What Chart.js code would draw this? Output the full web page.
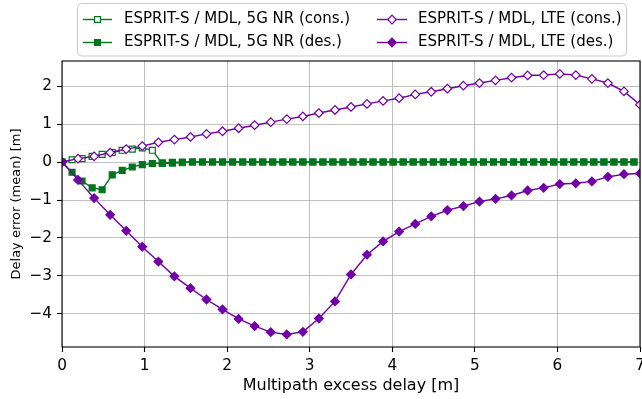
<!DOCTYPE html>
<html><head><meta charset="utf-8">
<script src="https://cdn.jsdelivr.net/npm/chart.js@4/dist/chart.umd.min.js"></script>
<style>html,body{margin:0;padding:0;background:#fff;} canvas{display:block;}</style>
</head><body>
<canvas id="c" width="642" height="399" style="width:642px;height:399px"></canvas>
<script>
// x positions (multipath excess delay, m)
const lteDelay = [0, 0.194, 0.389, 0.583, 0.778, 0.972, 1.167, 1.361, 1.556, 1.75, 1.944, 2.139, 2.333, 2.528, 2.722, 2.917, 3.111, 3.306, 3.5, 3.694, 3.889, 4.083, 4.278, 4.472, 4.667, 4.861, 5.056, 5.25, 5.444, 5.639, 5.833, 6.028, 6.222, 6.417, 6.611, 6.806, 7.0];
const nrDelay = [0, 0.122, 0.243, 0.365, 0.486, 0.608, 0.729, 0.851, 0.972, 1.094, 1.215, 1.337, 1.458, 1.580, 1.701, 1.823, 1.944, 2.066, 2.188, 2.309, 2.431, 2.552, 2.674, 2.795, 2.917, 3.038, 3.160, 3.281, 3.403, 3.524, 3.646, 3.767, 3.889, 4.010, 4.132, 4.253, 4.375, 4.497, 4.618, 4.740, 4.861, 4.983, 5.104, 5.226, 5.347, 5.469, 5.590, 5.712, 5.833, 5.955, 6.076, 6.198, 6.319, 6.441, 6.563, 6.684, 6.806, 6.927];

// series values (mean delay error, m)
const nrCons = [0, 0.06, 0.09, 0.15, 0.20, 0.25, 0.31, 0.34, 0.37, 0.31, -0.04, -0.03, -0.02, 0, 0, 0, 0, 0, 0, 0, 0, 0, 0, 0, 0, 0, 0, 0, 0, 0, 0, 0, 0, 0, 0, 0, 0, 0, 0, 0, 0, 0, 0, 0, 0, 0, 0, 0, 0, 0, 0, 0, 0, 0, 0, 0, 0, 0];
const nrDes = [0, -0.27, -0.50, -0.68, -0.73, -0.34, -0.22, -0.13, -0.07, -0.04, -0.02, -0.01, 0, 0, 0, 0, 0, 0, 0, 0, 0, 0, 0, 0, 0, 0, 0, 0, 0, 0, 0, 0, 0, 0, 0, 0, 0, 0, 0, 0, 0, 0, 0, 0, 0, 0, 0, 0, 0, 0, 0, 0, 0, 0, 0, 0, 0, 0];
const lteCons = [0, 0.09, 0.15, 0.25, 0.34, 0.42, 0.52, 0.59, 0.66, 0.74, 0.81, 0.89, 0.97, 1.05, 1.13, 1.20, 1.29, 1.37, 1.45, 1.53, 1.61, 1.68, 1.78, 1.85, 1.93, 2.01, 2.08, 2.15, 2.22, 2.28, 2.29, 2.32, 2.29, 2.19, 2.08, 1.86, 1.51];
const lteDes = [0, -0.47, -0.95, -1.39, -1.81, -2.23, -2.62, -3.01, -3.32, -3.62, -3.88, -4.13, -4.32, -4.48, -4.54, -4.47, -4.12, -3.67, -2.96, -2.44, -2.09, -1.83, -1.63, -1.43, -1.27, -1.16, -1.04, -0.97, -0.88, -0.75, -0.68, -0.58, -0.56, -0.51, -0.39, -0.32, -0.30];

const xTicks = [0, 1, 2, 3, 4, 5, 6, 7];
const yTicks = [-4, -3, -2, -1, 0, 1, 2];
const seriesLabels = ['ESPRIT-S / MDL, 5G NR (cons.)', 'ESPRIT-S / MDL, 5G NR (des.)', 'ESPRIT-S / MDL, LTE (cons.)', 'ESPRIT-S / MDL, LTE (des.)'];
const xTitle = 'Multipath excess delay [m]';
const yTitle = 'Delay error (mean) [m]';

const GREEN = '#00761c', PURPLE = '#7200a6';
const FONT = '"DejaVu Sans", sans-serif';

function pts(xs, ys) { return xs.map((x, i) => ({ x: x, y: ys[i] })); }
function mk(label, xs, ys, color, style, filled, order) {
  return {
    label: label, data: pts(xs, ys), borderColor: color, backgroundColor: filled ? color : '#fff',
    borderWidth: 1.4, pointStyle: style, pointRadius: style === 'rect' ? 4.2 : 4.3,
    pointBorderWidth: 1.2, pointBorderColor: color, pointBackgroundColor: filled ? color : '#fff',
    pointHoverRadius: 4, tension: 0, order: order, fill: false
  };
}
const datasets = [
  mk(seriesLabels[0], nrDelay, nrCons, GREEN, 'rect', false, 4),
  mk(seriesLabels[1], nrDelay, nrDes, GREEN, 'rect', true, 3),
  mk(seriesLabels[2], lteDelay, lteCons, PURPLE, 'rectRot', false, 2),
  mk(seriesLabels[3], lteDelay, lteDes, PURPLE, 'rectRot', true, 1)
];

const fmt = v => (v < 0 ? '\u2212' + Math.abs(v) : String(v));

const framePlugin = {
  id: 'frame',
  afterDatasetsDraw(chart) {
    const a = chart.chartArea, ctx = chart.ctx;
    ctx.save();
    ctx.strokeStyle = '#000'; ctx.lineWidth = 1.1;
    ctx.strokeRect(a.left, a.top, a.right - a.left, a.bottom - a.top);
    ctx.restore();
  }
};

const legendPlugin = {
  id: 'mplLegend',
  afterDraw(chart) {
    const ctx = chart.ctx;
    ctx.save();
    const bx = 77.5, by = 3.5, bw = 549, bh = 52.5, r = 4;
    ctx.beginPath();
    ctx.moveTo(bx + r, by); ctx.lineTo(bx + bw - r, by); ctx.arcTo(bx + bw, by, bx + bw, by + r, r);
    ctx.lineTo(bx + bw, by + bh - r); ctx.arcTo(bx + bw, by + bh, bx + bw - r, by + bh, r);
    ctx.lineTo(bx + r, by + bh); ctx.arcTo(bx, by + bh, bx, by + bh - r, r);
    ctx.lineTo(bx, by + r); ctx.arcTo(bx, by, bx + r, by, r); ctx.closePath();
    ctx.fillStyle = 'rgba(255,255,255,0.8)'; ctx.fill();
    ctx.strokeStyle = '#cccccc'; ctx.lineWidth = 1; ctx.stroke();
    const cols = [{ h0: 83, h1: 112, tx: 124 }, { h0: 377, h1: 407, tx: 418 }];
    const rows = [19.5, 42.5];
    chart.data.datasets.forEach((ds, i) => {
      const c = cols[i < 2 ? 0 : 1], y = rows[i % 2];
      ctx.strokeStyle = ds.borderColor; ctx.lineWidth = ds.borderWidth;
      ctx.beginPath(); ctx.moveTo(c.h0, y); ctx.lineTo(c.h1, y); ctx.stroke();
      const mx = (c.h0 + c.h1) / 2;
      ctx.fillStyle = ds.pointBackgroundColor; ctx.strokeStyle = ds.pointBorderColor; ctx.lineWidth = ds.pointBorderWidth;
      ctx.beginPath();
      if (ds.pointStyle === 'rect') {
        const s = ds.pointRadius * Math.SQRT1_2;
        ctx.rect(mx - s, y - s, 2 * s, 2 * s);
      } else {
        const s = ds.pointRadius;
        ctx.moveTo(mx, y - s); ctx.lineTo(mx + s, y); ctx.lineTo(mx, y + s); ctx.lineTo(mx - s, y); ctx.closePath();
      }
      ctx.fill(); ctx.stroke();
      ctx.fillStyle = '#000'; ctx.font = '15px ' + FONT; ctx.textBaseline = 'middle'; ctx.textAlign = 'left';
      ctx.fillText(ds.label, c.tx, y);
    });
    ctx.restore();
  }
};

new Chart(document.getElementById('c'), {
  type: 'line',
  data: { datasets: datasets },
  plugins: [framePlugin, legendPlugin],
  options: {
    responsive: false, devicePixelRatio: 1, animation: false,
    layout: { autoPadding: false, padding: { left: 0, right: 2, top: 61, bottom: 0 } },
    plugins: { legend: { display: false }, tooltip: { enabled: false } },
    scales: {
      x: {
        type: 'linear', min: 0, max: 7,
        afterBuildTicks: s => { s.ticks = xTicks.map(v => ({ value: v })); },
        afterFit: s => { s.height = 52; s.paddingLeft = 0; s.paddingRight = 0; },
        ticks: { color: '#000', font: { family: FONT, size: 15.3 }, padding: 5, maxRotation: 0, callback: fmt },
        grid: { color: '#b0b0b0', lineWidth: 0.8, tickColor: '#000', tickLength: 5, tickWidth: 1.1 },
        border: { display: false },
        title: { display: true, text: xTitle, color: '#000', font: { family: FONT, size: 16 }, padding: { top: 0, bottom: 4 } }
      },
      y: {
        type: 'linear', min: -4.87, max: 2.66,
        afterBuildTicks: s => { s.ticks = yTicks.map(v => ({ value: v })); },
        afterFit: s => { s.width = 62; s.paddingTop = 0; s.paddingBottom = 0; },
        ticks: { color: '#000', font: { family: FONT, size: 15.3 }, padding: 5, callback: fmt },
        grid: { color: '#b0b0b0', lineWidth: 0.8, tickColor: '#000', tickLength: 5, tickWidth: 1.1 },
        border: { display: false },
        title: { display: true, text: yTitle, color: '#000', font: { family: FONT, size: 13 }, padding: { top: 9, bottom: 0 } }
      }
    }
  }
});
</script>
</body></html>
